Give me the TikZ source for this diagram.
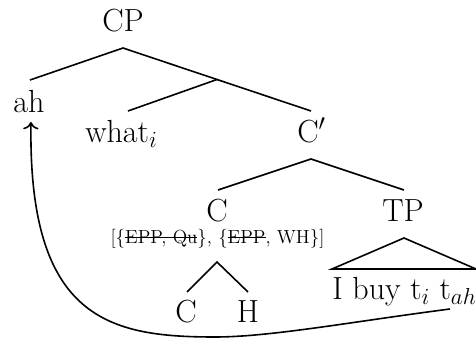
\documentclass[tikz,border=0pt]{standalone}
\usepackage{fontspec}
\usetikzlibrary{arrows.meta}
\newcommand{\strk}[1]{\setbox0\hbox{#1}\makebox[0pt][l]{\raisebox{0.31em}{\rule{\wd0}{0.08em}}}\box0}
\begin{document}
\begin{tikzpicture}[x=0.75pt,y=-0.75pt,
  lbl/.style={font=\fontsize{24}{28}\selectfont, inner sep=0pt, anchor=base},
  feat/.style={font=\fontsize{14.2}{17}\selectfont, inner sep=0pt, anchor=base},
  branch/.style={line width=1.2pt},
  mv/.style={line width=1.2pt, -{To[scale=1.3]}}]
\useasboundingbox (0,0) rectangle (476,338);
% labels
\node[lbl] (cp) at (123,32) {CP};
\node[lbl] (ah) at (29,113) {ah};
\node[lbl, anchor=base west] (what) at (85,143) {what$_i$};
\node[lbl, anchor=base west] (cbar) at (297,143) {C$'$};
\node[lbl] (c) at (217,222) {C};
\node[lbl] (tp) at (403,222) {TP};
\node[feat] (feats) at (217.5,244) {[\{\strk{EPP, Qu}\}, \{\strk{EPP}, WH\}]};
\node[lbl] (c2) at (186,323) {C};
\node[lbl] (h) at (248,323) {H};
\node[lbl, anchor=base west] (ibuy) at (332,300) {I buy t$_i$ t$_{ah}$};
% branch points
\coordinate (cpApex) at (123,48);
\coordinate (ahTop) at (30,80);
\coordinate (cbarTop) at (311,111);
\coordinate (join) at (217,79.5);
\coordinate (whatTop) at (128,111);
\coordinate (cbarApex) at (311,159);
\coordinate (cTop) at (218,190);
\coordinate (tpTop) at (404,190);
\coordinate (cApex) at (217,262);
\coordinate (c2Top) at (187,292);
\coordinate (hTop) at (248,292);
\coordinate (tpApex) at (404,238);
\coordinate (triL) at (332,269);
\coordinate (triR) at (476,269);
\coordinate (mvStart) at (450,309);
\coordinate (mvLow) at (215,337);
\coordinate (mvEnd) at (31,122);
% branches
\draw[branch] (ahTop) -- (cpApex) -- (cbarTop);
\draw[branch] (join) -- (whatTop);
\draw[branch] (cTop) -- (cbarApex) -- (tpTop);
\draw[branch] (c2Top) -- (cApex) -- (hTop);
\draw[branch] (triL) -- (tpApex) -- (triR) -- cycle;
% movement arrow
\draw[mv] (mvStart) .. controls (350,322) and (270,337) .. (mvLow)
  .. controls (110,337) and (28,320) .. (mvEnd);
\end{tikzpicture}
\end{document}
